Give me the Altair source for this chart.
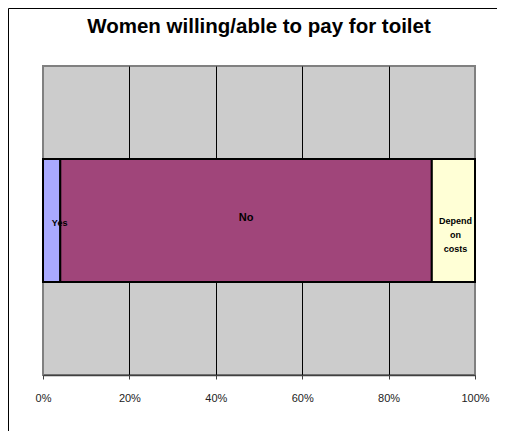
import altair as alt
import pandas as pd

categories = ["Yes", "No", "Depend on costs"]
shares = [0.04, 0.86, 0.10]
labels = ["Yes", "No", "Depend\non\ncosts"]
colors = ["#AAAAFF", "#A0457A", "#FFFFD6"]
ticks = [0, 0.2, 0.4, 0.6, 0.8, 1.0]

ends = pd.Series(shares).cumsum()
starts = ends - pd.Series(shares)
df = pd.DataFrame({
    "category": categories,
    "share": shares,
    "start": starts,
    "end": ends,
    "mid": (starts + ends) / 2,
    "label": labels,
    "grp": ["Women"] * 3,
})

W, H = 432, 309

xscale = alt.Scale(domain=[0, 1], nice=False, zero=False)

base = alt.Chart(df)

bars = base.mark_bar(size=123, stroke="black", strokeWidth=2).encode(
    x=alt.X("start:Q", scale=xscale, title=None,
            axis=alt.Axis(values=ticks, format=".0%", grid=True,
                          gridColor="black", gridWidth=1,
                          gridOpacity=alt.ExprRef(expr="datum.value > 0.001 && datum.value < 0.999 ? 1 : 0"),
                          domainColor="#404040", domainWidth=1.5,
                          tickColor="#404040", tickSize=4,
                          labelFont="Liberation Sans", labelFontSize=11,
                          labelColor="#222222", labelPadding=13,
                          labelFlush=False)),
    x2="end:Q",
    y=alt.Y("grp:N", axis=None),
    color=alt.Color("category:N", scale=alt.Scale(domain=categories, range=colors), legend=None),
)

def label_layer(cat, size, dx=0, dy=0):
    return base.transform_filter(alt.datum.category == cat).mark_text(
        font="Liberation Sans", fontWeight="bold", fontSize=size,
        lineBreak="\n", lineHeight=14, color="black", baseline="middle",
        dx=dx, dy=dy).encode(
        x=alt.X("mid:Q", scale=xscale),
        y=alt.Y("grp:N", axis=None),
        text="label:N",
    )

text_yes = label_layer("Yes", 9, dx=8, dy=2)
text_no = label_layer("No", 11, dy=-3)
text_dep = label_layer("Depend on costs", 9, dx=2)

border_top = alt.Chart(df.head(1)).mark_rule(color="black", strokeWidth=1).encode(
    x=alt.value(-34.5), x2=alt.value(470), y=alt.value(-57.5)
)
border_left = alt.Chart(df.head(1)).mark_rule(color="black", strokeWidth=1).encode(
    x=alt.value(-34.5), y=alt.value(-57.5), y2=alt.value(400)
)

chart = alt.layer(bars, text_yes, text_no, text_dep, border_top, border_left).properties(
    width=W, height=H,
    autosize=alt.AutoSizeParams(type="none"),
    padding={"left": 35, "top": 58, "right": 22, "bottom": 56},
    title=alt.TitleParams("Women willing/able to pay for toilet", font="Liberation Sans",
                          fontSize=20.5, fontWeight="bold", color="black",
                          anchor="middle", frame="group", baseline="alphabetic", offset=-45),
).configure_view(
    fill="#CCCCCC", stroke="#808080", strokeWidth=2
)

chart.save("out.html", embed_options={"renderer": "svg", "actions": False})
